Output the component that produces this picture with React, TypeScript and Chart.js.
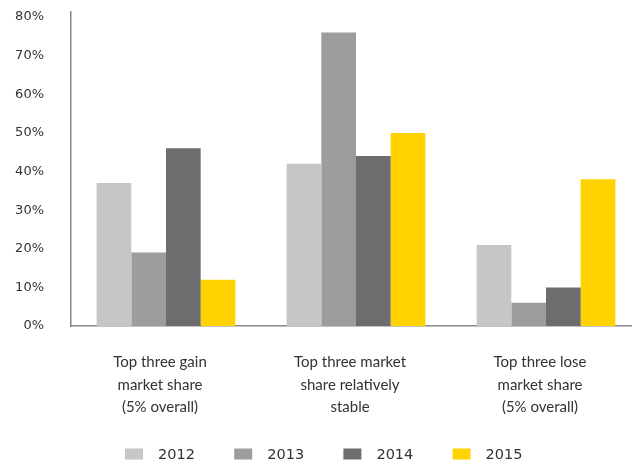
import React, { useEffect, useRef } from "react";
import { Chart, registerables } from "chart.js";

Chart.register(...registerables);

const categories: string[][] = [
  ["Top three gain", "market share", "(5% overall)"],
  ["Top three market", "share relatively", "stable"],
  ["Top three lose", "market share", "(5% overall)"],
];
const series2012 = [37, 42, 21];
const series2013 = [19, 76, 6];
const series2014 = [46, 44, 10];
const series2015 = [12, 50, 38];
const seriesLabels = ["2012", "2013", "2014", "2015"];
const seriesColors = ["#c6c6c8", "#9d9d9f", "#6d6d6f", "#ffd200"];
const yTicks = [0, 10, 20, 30, 40, 50, 60, 70, 80];

const legendPlugin = {
  id: "customLegend",
  afterDraw(chart: any) {
    const ctx = chart.ctx;
    ctx.save();
    const startX = 125;
    const step = 109.2;
    const y = 454;
    chart.data.datasets.forEach((ds: any, i: number) => {
      const x = startX + i * step;
      ctx.fillStyle = ds.backgroundColor;
      ctx.fillRect(x, y - 5.5, 18, 11);
      ctx.fillStyle = "#333333";
      ctx.font = "14.5px 'DejaVu Sans'";
      ctx.textBaseline = "middle";
      ctx.textAlign = "left";
      ctx.fillText(ds.label, x + 33, y + 1);
    });
    ctx.restore();
  },
};

export default function App() {
  const ref = useRef<HTMLCanvasElement | null>(null);
  useEffect(() => {
    if (!ref.current) return;
    const data = [series2012, series2013, series2014, series2015];
    const chart = new Chart(ref.current, {
      type: "bar",
      data: {
        labels: categories,
        datasets: data.map((d, i) => ({
          label: seriesLabels[i],
          data: d,
          backgroundColor: seriesColors[i],
          borderWidth: 0,
          categoryPercentage: 0.73,
          barPercentage: 1.0,
        })),
      },
      options: {
        responsive: false,
        animation: false,
        maintainAspectRatio: false,
        layout: { padding: { left: 14, right: 0, top: 12, bottom: 50 } },
        plugins: {
          legend: { display: false },
          tooltip: { enabled: false },
        },
        scales: {
          x: {
            grid: { display: false, drawTicks: false },
            border: { display: true, color: "#888888", width: 1.5 },
            afterFit: (scale: any) => {
              scale.height = 92;
            },
            ticks: {
              color: "#333333",
              font: { family: "Lato", size: 15, lineHeight: 1.5 },
              padding: 25,
              labelOffset: -6,
              maxRotation: 0,
              autoSkip: false,
            },
          },
          y: {
            min: 0,
            max: 81.3,
            grid: { display: false, drawTicks: false },
            border: { display: true, color: "#888888", width: 1.5 },
            afterBuildTicks: (scale: any) => {
              scale.ticks = yTicks.map((v) => ({ value: v }));
            },
            afterFit: (scale: any) => {
              scale.width = 57;
              scale.paddingTop = 0;
              scale.paddingBottom = 0;
            },
            ticks: {
              color: "#333333",
              font: { family: "DejaVu Sans", size: 13 },
              padding: 27,
              callback: (v: any) => `${v}%`,
            },
          },
        },
      },
      plugins: [legendPlugin],
    });
    return () => chart.destroy();
  }, []);
  return (
    <div
      style={{
        position: "absolute",
        left: 0,
        top: 0,
        width: 632,
        height: 468,
        overflow: "hidden",
        background: "#fff",
      }}
    >
      <canvas ref={ref} width={641} height={468} style={{ display: "block" }} />
    </div>
  );
}
